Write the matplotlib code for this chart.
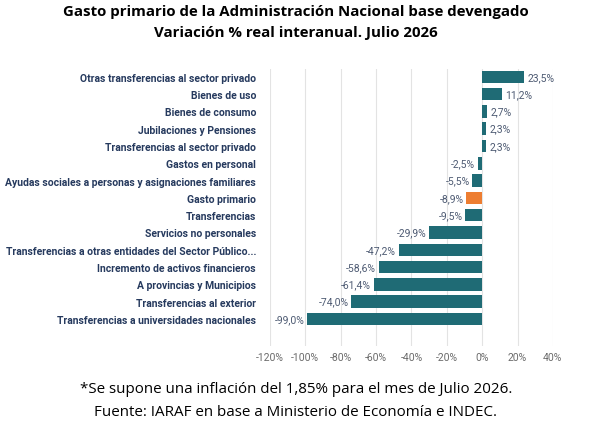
import matplotlib.pyplot as plt
from matplotlib import font_manager

categorias = [
    'Otras transferencias al sector privado',
    'Bienes de uso',
    'Bienes de consumo',
    'Jubilaciones y Pensiones',
    'Transferencias al sector privado',
    'Gastos en personal',
    'Ayudas sociales a personas y asignaciones familiares',
    'Gasto primario',
    'Transferencias',
    'Servicios no personales',
    'Transferencias a otras entidades del Sector Público...',
    'Incremento de activos financieros',
    'A provincias y Municipios',
    'Transferencias al exterior',
    'Transferencias a universidades nacionales',
]
variacion = [23.5, 11.2, 2.7, 2.3, 2.3, -2.5, -5.5, -8.9, -9.5, -29.9, -47.2, -58.6, -61.4, -74.0, -99.0]
destacado = 'Gasto primario'
ticks_x = [-120, -100, -80, -60, -40, -20, 0, 20, 40]

nombres = {f.name for f in font_manager.fontManager.ttflist}
fuente_cat = 'Liberation Sans Narrow' if 'Liberation Sans Narrow' in nombres else 'Roboto'

fig = plt.figure(figsize=(5.92, 4.31), dpi=100)
ax = fig.add_axes([0.456, 0.195, 0.478, 0.643])

colores = ['#ed7d31' if c == destacado else '#1f6b75' for c in categorias]
pos = list(range(len(categorias)))
ax.barh(pos, variacion, height=0.72, color=colores, zorder=3)

for y, v in zip(pos, variacion):
    txt = f'{v:.1f}%'.replace('.', ',')
    if v >= 0:
        ax.text(v + 2, y, txt, va='center', ha='left', fontsize=7.5, color='#4e5b73', family='Roboto')
    else:
        ax.text(v - 1.5, y, txt, va='center', ha='right', fontsize=7.5, color='#4e5b73', family='Roboto')

ax.set_xlim(-120, 40)
ax.set_ylim(15.56, -0.46)
ax.set_xticks(ticks_x)
ax.set_xticklabels([f'{t}%' for t in ticks_x], fontsize=7.5, color='#6b6b6b', family='Roboto')
ax.set_yticks(pos)
ax.set_yticklabels(categorias, fontsize=7.5, color='#263a5e', family=fuente_cat, fontweight='bold')
ax.tick_params(length=0, pad=4)
ax.tick_params(axis='y', pad=10)
ax.grid(axis='x', color='#e3e3e3', linewidth=0.8, zorder=0)
for s in ax.spines.values():
    s.set_visible(False)

fig.text(0.5, 0.972, 'Gasto primario de la Administración Nacional base devengado',
         ha='center', va='center', fontsize=10.8, fontweight='bold', family='Open Sans')
fig.text(0.5, 0.923, 'Variación % real interanual. Julio 2026',
         ha='center', va='center', fontsize=10.8, fontweight='bold', family='Open Sans')
fig.text(0.5, 0.097, '*Se supone una inflación del 1,85% para el mes de Julio 2026.',
         ha='center', va='center', fontsize=10.9, family='Open Sans')
fig.text(0.5, 0.042, 'Fuente: IARAF en base a Ministerio de Economía e INDEC.',
         ha='center', va='center', fontsize=10.9, family='Open Sans')

fig.savefig('out.png', dpi=100)
